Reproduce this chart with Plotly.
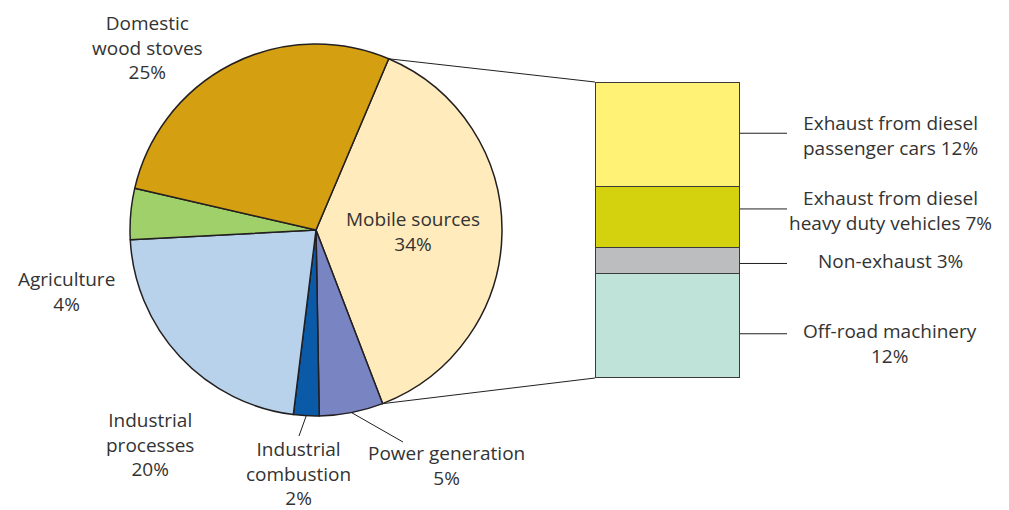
import math
import plotly.graph_objects as go

# ---- data ----
pie_labels = ["Mobile sources", "Power generation", "Industrial combustion",
              "Industrial processes", "Agriculture", "Domestic wood stoves"]
pie_values = [34, 5, 2, 20, 4, 25]
pie_colors = ["#FFEBBB", "#7885C2", "#0B5AA8", "#B8D2EC", "#A0D06A", "#D4A012"]

bar_labels = ["Off-road machinery<br>12%", "Non-exhaust 3%",
              "Exhaust from diesel<br>heavy duty vehicles 7%",
              "Exhaust from diesel<br>passenger cars 12%"]
bar_values = [12, 3, 7, 12]
bar_colors = ["#BFE3D9", "#BCBDBF", "#D4D20E", "#FFF275"]

W, H = 1009, 510
OFF = 8  # page body margin in the browser
FONT = dict(family="Open Sans, DejaVu Sans, sans-serif", size=19, color="#333333")
LINE = "#231F20"

# ---- pie geometry (pixels on screen) ----
cx, cy, r = 316, 230, 186
rotation = 23

def px(x):
    return (x - OFF) / W

def py(y):
    return 1 - (y - OFF) / H

pie_dom_x = [px(cx - r), px(cx + r)]
pie_dom_y = [py(cy + r), py(cy - r)]

# ---- bar geometry (pixels on screen) ----
bx0, bx1, by_top, by_bot = 595, 740, 82, 378
bar_dom_x = [px(bx0), px(bx1)]
bar_dom_y = [py(by_bot), py(by_top)]

fig = go.Figure()
fig.add_trace(go.Pie(
    labels=pie_labels, values=pie_values, sort=False, direction="clockwise",
    rotation=rotation, textinfo="none", hoverinfo="label+value",
    marker=dict(colors=pie_colors, line=dict(color=LINE, width=1.5)),
    domain=dict(x=pie_dom_x, y=pie_dom_y), showlegend=False))

for lab, val, col in zip(bar_labels, bar_values, bar_colors):
    fig.add_trace(go.Bar(x=[0.5], y=[val], width=[1], name=lab,
                         marker=dict(color=col, line=dict(color="#3A3A3A", width=1.5)),
                         xaxis="x", yaxis="y", showlegend=False, hoverinfo="name"))

total = sum(pie_values)
bar_total = sum(bar_values)

def pie_pt(angle_deg, rad=r):
    a = math.radians(angle_deg)
    return cx + rad * math.sin(a), cy - rad * math.cos(a)

shapes = []
# connector lines from mobile-slice edges to bar corners
mob_start = rotation
mob_end = rotation + pie_values[0] / total * 360
x1p, y1p = pie_pt(mob_start)
x2p, y2p = pie_pt(mob_end)
shapes.append(dict(type="line", xref="paper", yref="paper", x0=px(x1p), y0=py(y1p),
                   x1=px(bx0), y1=py(by_top), line=dict(color=LINE, width=1)))
shapes.append(dict(type="line", xref="paper", yref="paper", x0=px(x2p), y0=py(y2p),
                   x1=px(bx0), y1=py(by_bot), line=dict(color=LINE, width=1)))

# slice angles
angles = []
a = rotation
for v in pie_values:
    a0 = a
    a = a + v / total * 360
    angles.append((a0, a))

# leader lines for small slices
pg_mid = sum(angles[1]) / 2
ic_mid = sum(angles[2]) / 2
sx, sy = pie_pt(pg_mid)
shapes.append(dict(type="line", xref="paper", yref="paper", x0=px(sx), y0=py(sy),
                   x1=px(403), y1=py(442), line=dict(color=LINE, width=1)))
sx, sy = pie_pt(ic_mid)
shapes.append(dict(type="line", xref="paper", yref="paper", x0=px(sx), y0=py(sy),
                   x1=px(299), y1=py(436), line=dict(color=LINE, width=1)))

# bar leader lines
line_offsets = [8, 3, -8, -1]  # small visual nudges (px) per segment
cum = 0
bar_centers = []
for v in bar_values:
    bar_centers.append(cum + v / 2)
    cum += v
ppu = (by_bot - by_top) / bar_total
for c, off in zip(bar_centers, line_offsets):
    ypx = by_bot - c * ppu + off
    shapes.append(dict(type="line", xref="paper", yref="paper", x0=px(bx1), y0=py(ypx),
                       x1=px(787), y1=py(ypx), line=dict(color=LINE, width=1)))

annotations = []
def ann(text, x, y):
    annotations.append(dict(text=text, x=px(x), y=py(y), xref="paper", yref="paper",
                            showarrow=False, font=FONT, align="center",
                            xanchor="center", yanchor="middle"))

ann("Domestic<br>wood stoves<br>25%", 147, 48)
ann("Mobile sources<br>34%", 413, 231)
ann("Agriculture<br>4%", 66, 291)
ann("Industrial<br>processes<br>20%", 150, 444)
ann("Industrial<br>combustion<br>2%", 298, 473)
ann("Power generation<br>5%", 446, 465)

label_text_y = [343, 261, 211, 135]
for lab, ty in zip(bar_labels, label_text_y):
    ann(lab, 890, ty)

fig.update_layout(
    width=W, height=H, margin=dict(l=0, r=0, t=0, b=0),
    paper_bgcolor="white", plot_bgcolor="white", barmode="stack",
    xaxis=dict(domain=bar_dom_x, range=[0, 1], visible=False, fixedrange=True),
    yaxis=dict(domain=bar_dom_y, range=[0, bar_total], visible=False, fixedrange=True),
    shapes=shapes, annotations=annotations, showlegend=False, font=FONT)

fig.write_html("out.html")
